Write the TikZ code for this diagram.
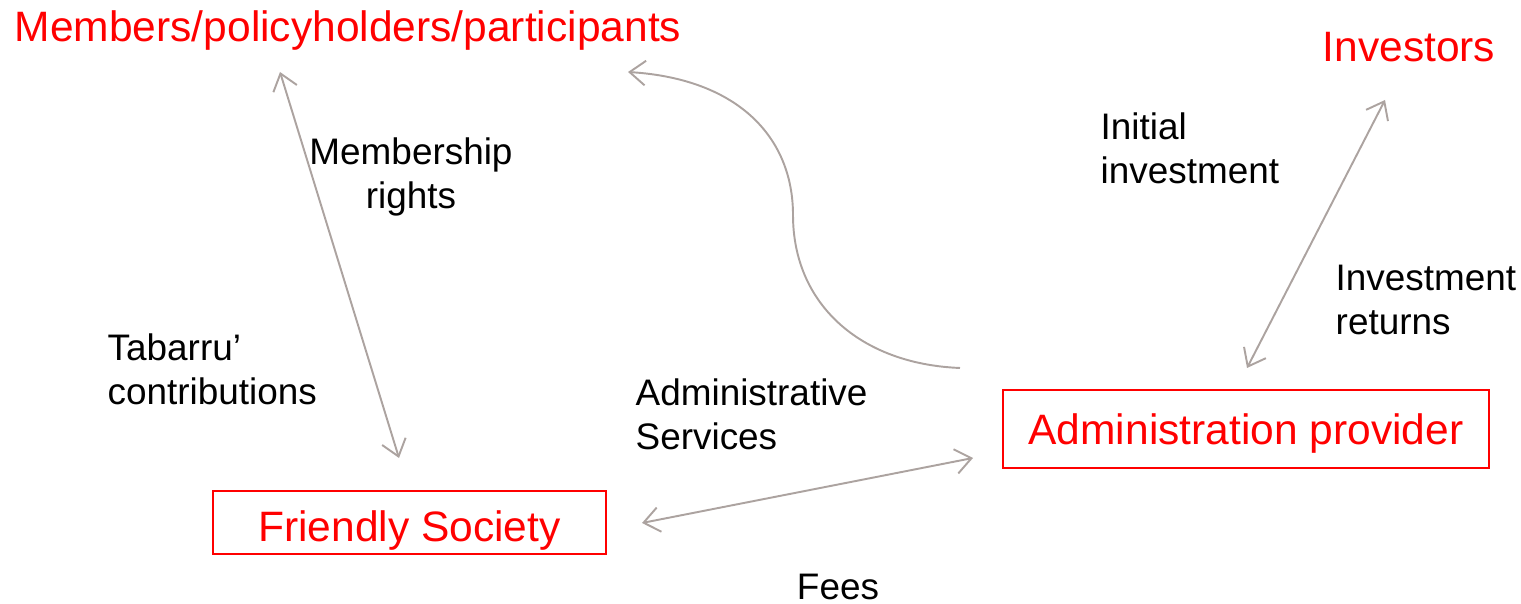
\documentclass[tikz,border=0pt]{standalone}
\usepackage{fontspec}
\setmainfont{Liberation Sans}
\usetikzlibrary{arrows.meta}
\definecolor{flowgray}{RGB}{172,163,160}
\tikzset{
  party/.style={text=red, font=\fontsize{12.1}{14.5}\selectfont, inner sep=0pt},
  partybox/.style={draw=red, line width=0.5pt, text=red, font=\fontsize{12.1}{14.5}\selectfont, minimum height=#1, inner sep=0pt, text depth=0pt},
  flowlabel/.style={font=\fontsize{10.5}{12.5}\selectfont, inner sep=0pt},
  flow/.style={draw=flowgray, line width=0.55pt, {Straight Barb[length=4.5pt,width=7pt]}-{Straight Barb[length=4.5pt,width=7pt]}},
  flowone/.style={draw=flowgray, line width=0.55pt, -{Straight Barb[length=4.5pt,width=7pt]}}
}
\begin{document}
\begin{tikzpicture}
  \useasboundingbox (0,0) rectangle (15.21,6.04);
  % parties
  \node[party, anchor=west] (members) at (0.14,5.73) {Members/policyholders/participants};
  \node[party, anchor=west] (investors) at (13.22,5.57) {Investors};
  \node[partybox=0.78cm, minimum width=4.86cm, text height=8.9pt] (admin) at (12.46,1.75) {Administration provider\hspace{3.4pt}};
  \node[partybox=0.63cm, minimum width=3.93cm, text height=10.7pt] (society) at (4.095,0.815) {Friendly Society};
  % labels
  \node[flowlabel, align=center] (rights) at (4.11,4.27) {Membership\\rights};
  \node[flowlabel, align=left, anchor=west] (initial) at (11.0,4.56) {Initial\\investment};
  \node[flowlabel, align=left, anchor=west] (returns) at (13.35,3.04) {Investment\\returns};
  \node[flowlabel, align=left, anchor=west] (tabarru) at (1.07,2.35) {Tabarru’\\contributions};
  \node[flowlabel, align=left, anchor=west] (services) at (6.35,1.90) {Administrative\\Services};
  \node[flowlabel] (fees) at (8.38,0.17) {Fees};
  % arrow ends
  \coordinate (memberslow) at (2.80,5.32);
  \coordinate (societyhigh) at (3.99,1.46);
  \coordinate (membersright) at (6.28,5.32);
  \coordinate (admintop) at (9.60,2.36);
  \coordinate (societyright) at (6.42,0.81);
  \coordinate (adminleft) at (9.73,1.46);
  \coordinate (investorslow) at (13.85,5.04);
  \coordinate (adminhigh) at (12.47,2.36);
  % flows
  \draw[flow] (memberslow) -- (societyhigh);
  \draw[flowone] (admintop) .. controls (8.6,2.40) and (7.93,3.00) .. (7.93,3.89)
    .. controls (7.93,4.65) and (7.40,5.25) .. (membersright);
  \draw[flow] (societyright) -- (adminleft);
  \draw[flow] (investorslow) -- (adminhigh);
\end{tikzpicture}
\end{document}
